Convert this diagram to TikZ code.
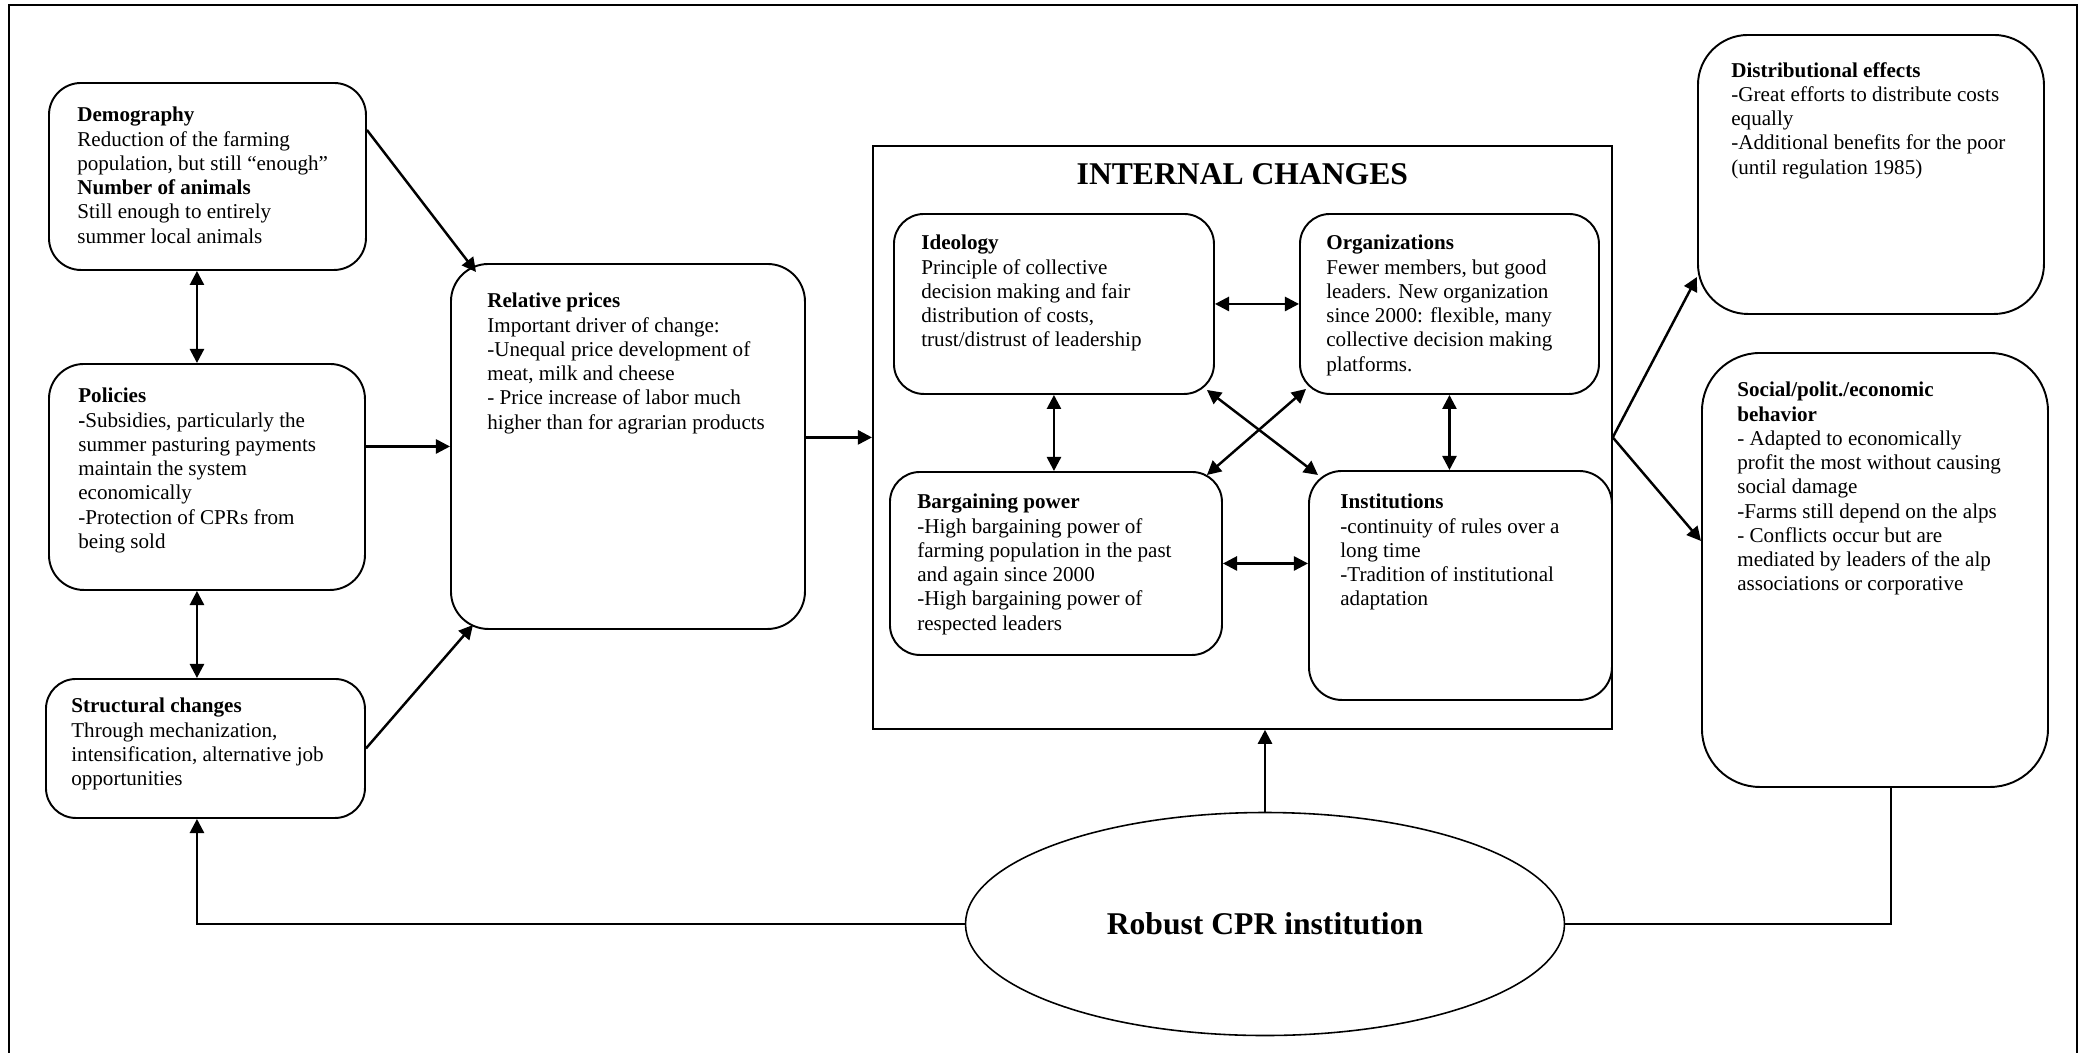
\documentclass[tikz,border=0pt]{standalone}
\usepackage{fontspec}
\setmainfont{Liberation Serif}
\usetikzlibrary{arrows.meta,positioning,shapes.geometric}

\begin{document}
\begin{tikzpicture}[>={Triangle[length=8pt,width=8pt]},
  box/.style={draw, line width=1.1pt, rectangle, anchor=north west, inner sep=0pt},
  txt/.style={inner sep=0pt, align=left, font=\fontsize{12}{13.8}\selectfont},
  head/.style={inner sep=0pt, font=\fontsize{18}{21}\selectfont\bfseries},
  link/.style={line width=1.4pt}]
  \useasboundingbox (0,0) rectangle (41.74,-21.04);
  \draw[line width=1.4pt] (0.18,-21.3) -- (0.18,-0.10) -- (41.54,-0.10) -- (41.54,-21.3);

  \node[box, rounded corners=0.64cm, minimum width=6.34cm, minimum height=3.74cm] (demography) at (0.96,-1.64) {};
  \node[txt, below right=0.50cm and 0.58cm of demography.north west] (demography-text) {\textbf{Demography}\\
    Reduction of the farming\\population, but still “enough”\\\textbf{Number of animals}\\
    Still enough to entirely\\summer local animals};

  \node[box, rounded corners=0.7cm, minimum width=6.32cm, minimum height=4.52cm] (policies) at (0.96,-7.26) {};
  \node[txt, below right=0.50cm and 0.60cm of policies.north west] (policies-text) {\textbf{Policies}\\
    \textbf{-}Subsidies, particularly the\\summer pasturing payments\\maintain the system\\
    economically\\-Protection of CPRs from\\being sold};

  \node[box, rounded corners=0.6cm, minimum width=6.38cm, minimum height=2.78cm] (structural) at (0.90,-13.56) {};
  \node[txt, below right=0.40cm and 0.52cm of structural.north west] (structural-text) {\textbf{Structural changes}\\
    Through mechanization,\\intensification, alternative job\\opportunities};

  \node[box, rounded corners=0.75cm, minimum width=7.08cm, minimum height=7.30cm] (prices) at (9.00,-5.26) {};
  \node[txt, below right=0.60cm and 0.74cm of prices.north west] (prices-text) {\textbf{Relative prices}\\
    Important driver of change:\\-Unequal price development of\\meat, milk and cheese\\
    - Price increase of labor much\\higher than for agrarian products};

  \node[box, line width=1pt, minimum width=14.78cm, minimum height=11.66cm] (internal) at (17.44,-2.90) {};
  \node[head, below=0.36cm of internal.north] (internal-title) {INTERNAL CHANGES};

  \node[box, rounded corners=0.6cm, minimum width=6.40cm, minimum height=3.60cm] (ideology) at (17.86,-4.26) {};
  \node[txt, below right=0.44cm and 0.56cm of ideology.north west] (ideology-text) {\textbf{Ideology}\\
    Principle of collective\\decision making and fair\\distribution of costs,\\trust/distrust of leadership};

  \node[box, rounded corners=0.6cm, minimum width=5.98cm, minimum height=3.60cm] (organizations) at (25.98,-4.26) {};
  \node[txt, below right=0.44cm and 0.54cm of organizations.north west] (organizations-text) {\textbf{Organizations}\\
    Fewer members, but good\\leaders. New organization\\since 2000: flexible, many\\
    collective decision making\\platforms.};

  \node[box, rounded corners=0.6cm, minimum width=6.64cm, minimum height=3.66cm] (bargaining) at (17.78,-9.42) {};
  \node[txt, below right=0.46cm and 0.56cm of bargaining.north west] (bargaining-text) {\textbf{Bargaining power}\\
    -High bargaining power of\\farming population in the past\\and again since 2000\\
    -High bargaining power of\\respected leaders};

  \node[box, rounded corners=0.66cm, minimum width=6.06cm, minimum height=4.58cm] (institutions) at (26.16,-9.40) {};
  \node[txt, below right=0.48cm and 0.64cm of institutions.north west] (institutions-text) {\textbf{Institutions}\\
    -continuity of rules over a\\long time\\-Tradition of institutional\\adaptation};

  \node[box, rounded corners=1.0cm, minimum width=6.92cm, minimum height=5.58cm] (distributional) at (33.94,-0.68) {};
  \node[txt, below right=0.56cm and 0.68cm of distributional.north west] (distributional-text) {\textbf{Distributional effects}\\
    -Great efforts to distribute costs\\equally\\-Additional benefits for the poor\\(until regulation 1985)};

  \node[box, rounded corners=1.16cm, minimum width=6.92cm, minimum height=8.68cm] (behavior) at (34.02,-7.04) {};
  \node[txt, below right=0.60cm and 0.72cm of behavior.north west] (behavior-text) {\textbf{Social/polit./economic}\\
    \textbf{behavior}\\- Adapted to economically\\profit the most without causing\\social damage\\
    -Farms still depend on the alps\\- Conflicts occur but are\\mediated by leaders of the alp\\
    associations or corporative};

  \node[draw, ellipse, line width=0.9pt, inner sep=0pt, minimum width=11.98cm, minimum height=4.46cm, head] (robust) at (25.30,-18.48) {Robust CPR institution};

  \draw[link, <->] ([xshift=-0.21cm]demography.south) -- ([xshift=-0.21cm]demography.south |- policies.north);
  \draw[link, <->] ([xshift=-0.20cm]policies.south) -- ([xshift=-0.20cm]policies.south |- structural.north);
  \draw[link, ->] ([yshift=0.93cm]demography.east) -- ([shift={(0.52,-0.18)}]prices.north west);
  \draw[link, ->] (policies.east |- prices.west) -- (prices.west);
  \draw[link, ->] (structural.east) -- ([shift={(0.46,0.10)}]prices.south west);
  \draw[link, ->] (prices.east |- internal.west) -- (internal.west);

  \draw[link, <->] (ideology.east) -- (organizations.west);
  \draw[link, <->] (ideology.south) -- (ideology.south |- bargaining.north);
  \draw[link, <->] (organizations.south) -- (organizations.south |- institutions.north);
  \draw[link, <->] (bargaining.east) -- (bargaining.east -| institutions.west);
  \draw[link, <->] ([shift={(-0.16,0.10)}]ideology.south east) -- ([shift={(0.20,-0.10)}]institutions.north west);
  \draw[link, <->] ([shift={(0.14,0.12)}]organizations.south west) -- ([shift={(-0.32,-0.08)}]bargaining.north east);

  \draw[link, ->] (internal.east) -- ([yshift=0.76cm]distributional.south west);
  \draw[link, ->] (internal.east) -- ([yshift=0.58cm]behavior.west);

  \draw[link, ->] (robust.north) -- (robust.north |- internal.south);
  \draw[link, ->] (robust.west) -| ([xshift=-0.17cm]structural.south);
  \draw[line width=0.8pt] (robust.east) -| ([xshift=0.32cm]behavior.south);
\end{tikzpicture}
\end{document}
